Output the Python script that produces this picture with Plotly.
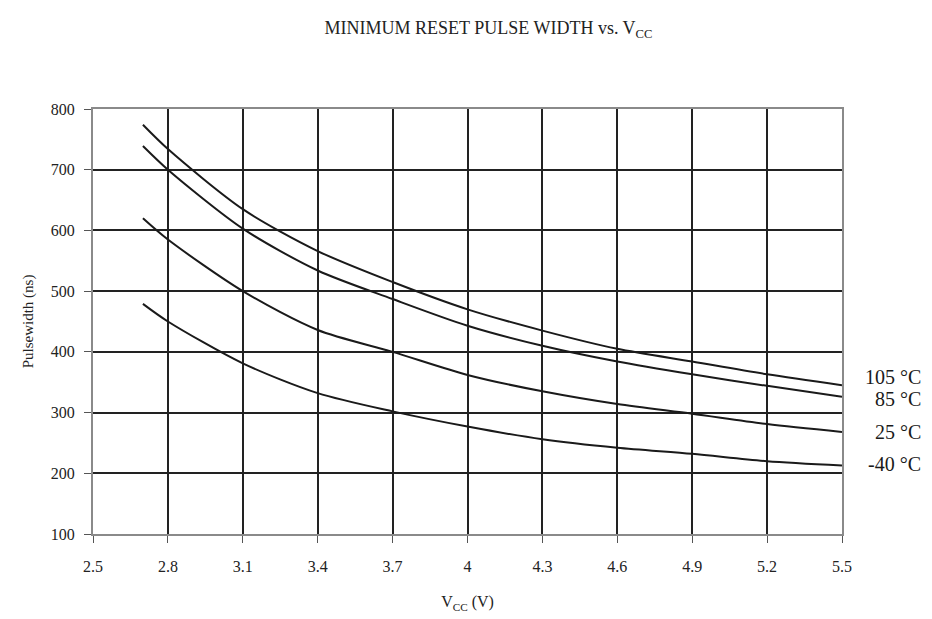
import plotly.graph_objects as go

vcc = [2.7, 2.8, 3.1, 3.4, 3.7, 4.0, 4.3, 4.6, 4.9, 5.2, 5.5]
t105 = [774, 734, 635, 566, 515, 470, 435, 405, 384, 363, 345]
t85 = [739, 700, 603, 534, 487, 443, 410, 384, 363, 344, 326]
t25 = [620, 585, 500, 436, 400, 362, 335, 314, 298, 281, 268]
tm40 = [479, 450, 381, 332, 302, 277, 256, 242, 232, 220, 213]

series_names = ["105 °C", "85 °C", "25 °C", "-40 °C"]
series_vals = [t105, t85, t25, tm40]
label_y = [359, 323, 268, 215]

x_ticks = [2.5, 2.8, 3.1, 3.4, 3.7, 4.0, 4.3, 4.6, 4.9, 5.2, 5.5]
x_tick_text = ["2.5", "2.8", "3.1", "3.4", "3.7", "4", "4.3", "4.6", "4.9", "5.2", "5.5"]
y_ticks = [100, 200, 300, 400, 500, 600, 700, 800]

FONT = "Liberation Serif, Times New Roman, serif"

fig = go.Figure()
for name, vals in zip(series_names, series_vals):
    fig.add_trace(go.Scatter(
        x=vcc, y=vals, mode="lines", name=name,
        line=dict(color="#1a1a1a", width=2, shape="spline", smoothing=0.8),
        showlegend=False,
    ))

for name, ly in zip(series_names, label_y):
    fig.add_annotation(
        x=1.0, xref="paper", y=ly, yref="y", text=name, showarrow=False,
        xanchor="right", yanchor="middle", xshift=81,
        font=dict(family=FONT, size=20, color="#1a1a1a"),
    )

fig.update_layout(
    width=924, height=611,
    margin=dict(l=85, r=90, t=101, b=85),
    paper_bgcolor="white", plot_bgcolor="white",
    font=dict(family=FONT, size=16, color="#222"),
    title=dict(
        text="MINIMUM RESET PULSE WIDTH vs. V<sub>CC</sub>",
        x=0.52, xanchor="center", y=0.968, yanchor="middle",
        font=dict(family=FONT, size=18, color="#222"),
    ),
)

fig.update_xaxes(
    range=[2.5, 5.5], tickvals=x_ticks, ticktext=x_tick_text,
    showgrid=True, gridcolor="#222", gridwidth=2,
    showline=True, linecolor="#8a8a8a", linewidth=2, mirror=True,
    ticks="outside", ticklen=7, tickcolor="#555", tickwidth=1,
    ticklabelstandoff=10,
    zeroline=False,
    tickfont=dict(family=FONT, size=16, color="#222"),
    title=dict(text="V<sub>CC</sub> (V)", font=dict(family=FONT, size=16, color="#222"), standoff=22),
)
fig.update_yaxes(
    range=[100, 800], tickvals=y_ticks,
    showgrid=True, gridcolor="#222", gridwidth=2,
    showline=True, linecolor="#8a8a8a", linewidth=2, mirror=True,
    ticks="outside", ticklen=7, tickcolor="#555", tickwidth=1,
    ticklabelstandoff=6,
    zeroline=False,
    tickfont=dict(family=FONT, size=16, color="#222"),
    title=dict(text="Pulsewidth (ns)", font=dict(family=FONT, size=15, color="#222"), standoff=14),
)

fig.write_html("out.html")
